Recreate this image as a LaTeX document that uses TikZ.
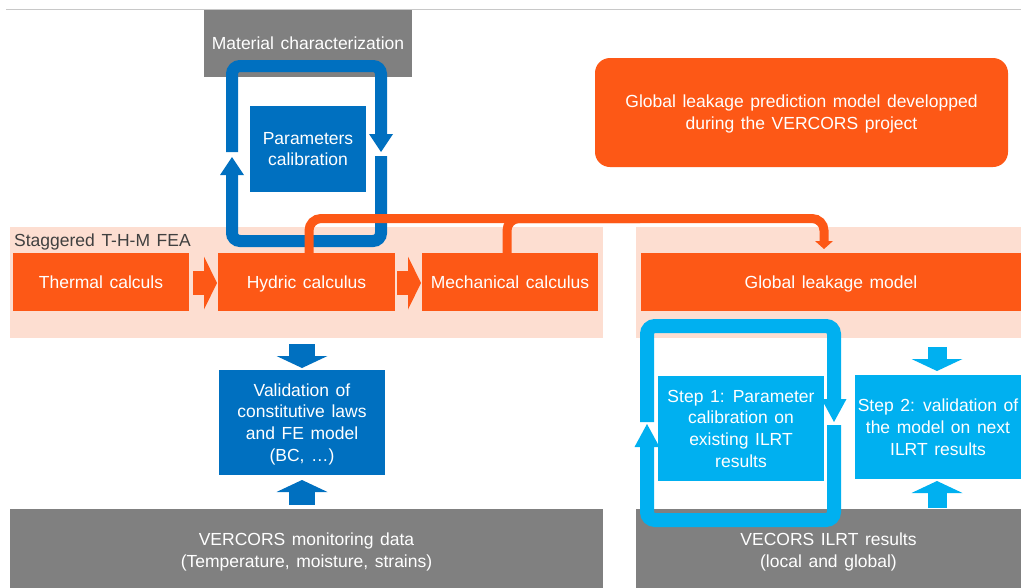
\documentclass[tikz,border=0pt]{standalone}
\usepackage{fontspec}
\setmainfont{Liberation Sans}[WordSpace=1.35]
\usetikzlibrary{arrows.meta,calc}
\definecolor{orng}{RGB}{253,88,22}
\definecolor{pnk}{RGB}{253,222,209}
\definecolor{gry}{RGB}{128,128,128}
\definecolor{dblue}{RGB}{0,112,192}
\definecolor{lblue}{RGB}{0,176,240}
\definecolor{lblgry}{RGB}{64,64,64}
\definecolor{rule}{RGB}{200,200,200}
\begin{document}
\begin{tikzpicture}[x=1pt,y=-1pt,font=\fontsize{17.5}{21.7}\selectfont,
  box/.style={inner sep=0pt,outer sep=0pt,text=white,align=center,anchor=center,text depth=0pt},
  obox/.style={box,fill=orng},
  gbox/.style={box,fill=gry},
  bbox/.style={box,fill=dblue},
  lbbox/.style={box,fill=lblue},
  pbox/.style={box,fill=pnk},
  oblock/.style={draw=orng,line width=24pt,-{Triangle[width=53pt,length=13pt,line width=0pt]}},
  bblock/.style={draw=dblue,line width=26pt,-{Triangle[width=51pt,length=12pt,line width=0pt]}},
  lbblock/.style={draw=lblue,line width=19pt,-{Triangle[width=51pt,length=12pt,line width=0pt]}},
  bloop/.style={draw=dblue,line width=12pt,rounded corners=8pt,-{Triangle[width=24pt,length=18pt,line width=0pt]}},
  lbloop/.style={draw=lblue,line width=14pt,rounded corners=8pt,-{Triangle[width=25pt,length=23pt,line width=0pt]}},
  oline/.style={draw=orng,line width=9pt,rounded corners=12pt},
]
\useasboundingbox (0,0) rectangle (1021,587);
\fill[white] (0,0) rectangle (1021,587);
\draw[rule,line width=1pt] (6,9) -- (1021,9);

% background regions
\node[pbox,minimum width=593pt,minimum height=111pt] (pinkL) at (306.5,282.5) {};
\node[pbox,minimum width=385pt,minimum height=111pt] (pinkR) at (828.5,282.5) {};
\node[anchor=base west,inner sep=0pt,text=lblgry] (stag) at (14,246.5) {Staggered T-H-M FEA};

% boxes
\node[gbox,minimum width=208pt,minimum height=67pt] (mat) at (308,43.5) {Material characterization};
\node[bbox,minimum width=116pt,minimum height=86pt] (par) at (308,149) {Parameters\\calibration};
\node[obox,minimum width=413pt,minimum height=109pt,rounded corners=15pt] (glp) at (801.5,112.5) {Global leakage prediction model developped\\during the VERCORS project};
\node[obox,minimum width=176pt,minimum height=58pt] (therm) at (101,282) {Thermal calculs};
\node[obox,minimum width=177pt,minimum height=58pt] (hyd) at (306.5,282) {Hydric calculus};
\node[obox,minimum width=176pt,minimum height=58pt] (mech) at (510,282) {Mechanical calculus};
\node[obox,minimum width=380pt,minimum height=58pt] (glm) at (831,282) {Global leakage model};
\node[bbox,minimum width=166pt,minimum height=105pt] (val) at (302,422.5) {Validation of\\constitutive laws\\and FE model\\(BC, …)};
\node[gbox,minimum width=593pt,minimum height=82pt] (monL) at (306.5,550) {VERCORS monitoring data\\(Temperature, moisture, strains)};
\node[gbox,minimum width=385pt,minimum height=82pt] (monR) at (828.5,550) {VECORS ILRT results\\(local and global)};
\node[lbbox,minimum width=166pt,minimum height=105pt] (s1) at (741,428.5) {Step 1: Parameter\\calibration on\\existing ILRT\\results};
\node[lbbox,minimum width=166pt,minimum height=104pt] (s2) at (938,427) {Step 2: validation of\\the model on next\\ILRT results};

% orange block arrows
\draw[oblock] ([xshift=4pt,yshift=-1pt]therm.east) -- ([xshift=-1pt,yshift=-1pt]hyd.west);
\draw[oblock] ([xshift=2pt,yshift=-1pt]hyd.east) -- ([xshift=-1pt,yshift=-1pt]mech.west);

% blue block arrows
\draw[bblock] ($(val.north |- pinkL.south)+(0,6)$) -- ($(val.north)+(0,-2)$);
\draw[bblock] ($(val.south |- monL.north)+(0,-4)$) -- ($(val.south)+(0,5)$);
\draw[lbblock] ($(s2.north |- pinkR.south)+(-1,9)$) -- ($(s2.north)+(-1,-4)$);
\draw[lbblock] ($(s2.south |- monL.north)+(-1,-1)$) -- ($(s2.south)+(-1,2)$);

% dark blue calibration loop
\coordinate (LA0) at (381,156);
\coordinate (LAbr) at (381,241);
\coordinate (LAbl) at (232,241);
\coordinate (LAt) at (232,157);
\coordinate (LB0) at (232,152);
\coordinate (LBtl) at (232,66);
\coordinate (LBtr) at (381,66);
\coordinate (LBt) at (381,152);
\draw[bloop] (LA0) -- (LAbr) -- (LAbl) -- (LAt);
\draw[bloop] (LB0) -- (LBtl) -- (LBtr) -- (LBt);

% light blue calibration loop
\coordinate (RA0) at (834,425);
\coordinate (RAbr) at (834,520);
\coordinate (RAbl) at (647,520);
\coordinate (RAt) at (647,424);
\coordinate (RB0) at (647,422);
\coordinate (RBtl) at (647,326);
\coordinate (RBtr) at (834,326);
\coordinate (RBt) at (834,422);
\draw[lbloop] (RA0) -- (RAbr) -- (RAbl) -- (RAt);
\draw[lbloop] (RB0) -- (RBtl) -- (RBtr) -- (RBt);

% orange connector to the global model
\coordinate (oc) at (824,218.5);
\coordinate (ojoin) at (640,218.5);
\draw[oline,-{Triangle[width=18pt,length=8pt,line width=0pt]}] ([xshift=2.5pt]hyd.north) |- (oc) -- ([xshift=-7pt,yshift=4pt]glm.north);
\draw[oline] ([xshift=-3pt]mech.north) |- (ojoin);
\end{tikzpicture}
\end{document}
